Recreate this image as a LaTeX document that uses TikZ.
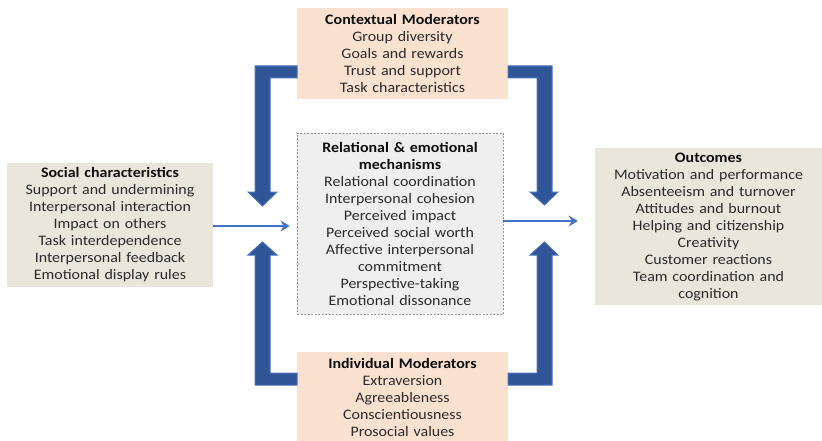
\documentclass[tikz,border=0pt]{standalone}
\usepackage{fontspec}
\setmainfont[FakeStretch=1.1]{Carlito}
\usetikzlibrary{arrows.meta}
\definecolor{peach}{HTML}{FBE2D0}
\definecolor{beige}{HTML}{E9E7DC}
\definecolor{lgray}{HTML}{EFEFEF}
\definecolor{txt}{HTML}{2A2A2A}
\definecolor{arrfill}{HTML}{2F5597}
\definecolor{arredge}{HTML}{4A73BD}
\definecolor{thinblue}{HTML}{4472C4}
\tikzset{
  box/.style={rectangle, inner sep=0pt, align=center, text=txt,
    font=\fontsize{14.5}{17}\selectfont},
  modbox/.style={box, fill=peach, minimum width=211pt, minimum height=91pt, text width=205pt},
  sidebox/.style={box, fill=beige},
  mechbox/.style={box, fill=lgray, draw=gray!80, dash pattern=on 2pt off 1.5pt, line width=0.8pt},
  bigarrow/.style={fill=arrfill, draw=arredge, line width=1pt, line join=miter},
  thinarrow/.style={draw=thinblue, line width=2.2pt, -{Stealth[length=9pt,width=11pt,inset=3pt]}},
}
\newcommand{\hd}[1]{\textbf{\color{black!95}#1}}
\begin{document}
\begin{tikzpicture}[x=1pt,y=-1pt]
\useasboundingbox (0,0) rectangle (822,441);
\fill[white] (0,0) rectangle (822,441);

\node[modbox] (ctx) at (402.5,53.5) {\hd{Contextual Moderators}\\Group diversity\\Goals and rewards\\Trust and support\\Task characteristics};
\node[modbox] (ind) at (402.5,397.5) {\hd{Individual Moderators}\\Extraversion\\Agreeableness\\Conscientiousness\\Prosocial values};
\node[mechbox, minimum width=206pt, minimum height=181pt, text width=200pt] (mech) at (400,223.5)
 {\hd{Relational \& emotional}\\\hd{mechanisms}\\Relational coordination\\Interpersonal cohesion\\Perceived impact\\Perceived social worth\\Affective interpersonal\\commitment\\Perspective-taking\\Emotional dissonance};
\node[sidebox, minimum width=206pt, minimum height=124pt, text width=204pt] (soc) at (110,225)
 {\hd{Social characteristics}\\Support and undermining\\Interpersonal interaction\\Impact on others\\Task interdependence\\Interpersonal feedback\\Emotional display rules};
\node[sidebox, minimum width=227pt, minimum height=157pt, text width=221pt] (out) at (708.5,226.5)
 {\hd{Outcomes}\\Motivation and performance\\Absenteeism and turnover\\Attitudes and burnout\\Helping and citizenship\\Creativity\\Customer reactions\\Team coordination and\\cognition};

% thick elbow arrows
\draw[bigarrow] (297,66) -- (255,66) -- (255,192) -- (248,192) -- (262.5,206) -- (277,192) -- (270,192) -- (270,78) -- (297,78) -- cycle;
\draw[bigarrow] (508,66) -- (552,66) -- (552,192) -- (558,192) -- (544.5,205) -- (530,192) -- (537,192) -- (537,78) -- (508,78) -- cycle;
\draw[bigarrow] (297,385) -- (255,385) -- (255,255) -- (248,255) -- (262.5,242) -- (277,255) -- (270,255) -- (270,373) -- (297,373) -- cycle;
\draw[bigarrow] (508,385) -- (552,385) -- (552,255) -- (558,255) -- (544.5,242) -- (530,255) -- (537,255) -- (537,373) -- (508,373) -- cycle;

% thin arrows
\draw[thinarrow, shorten >=7pt] ([yshift=-1pt]soc.east) -- ([yshift=-1pt]soc.east -| mech.west);
\draw[thinarrow, shorten >=17pt] ([yshift=2.5pt]mech.east) -- ([yshift=2.5pt]mech.east -| out.west);
\end{tikzpicture}
\end{document}
